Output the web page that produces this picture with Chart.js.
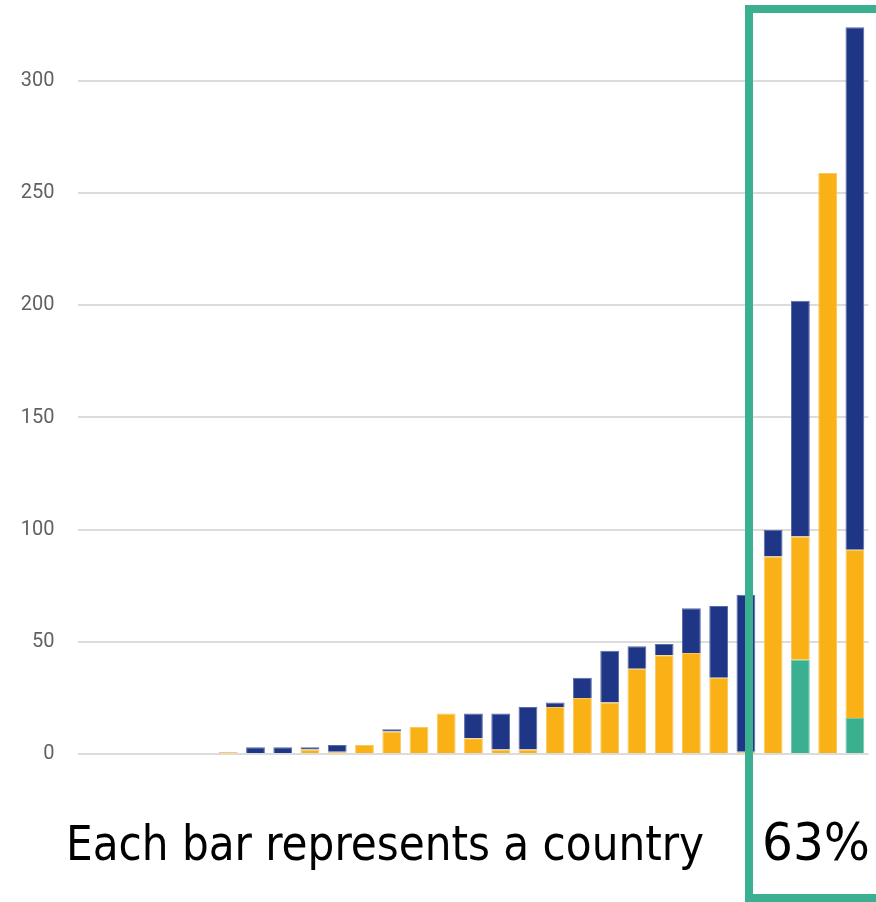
<!DOCTYPE html>
<html>
<head>
<meta charset="utf-8">
<script src="https://cdn.jsdelivr.net/npm/chart.js@4/dist/chart.umd.min.js"></script>
<style>
  html, body { margin: 0; padding: 0; background: #ffffff; overflow: hidden; }
  #wrap { position: relative; width: 876px; height: 902px; overflow: hidden; }
  #chart { position: absolute; left: 0; top: 0; }
  .caption {
    position: absolute;
    font-family: "DejaVu Sans Condensed", "DejaVu Sans", sans-serif;
    line-height: 1;
    color: #000000;
    white-space: nowrap;
    transform-origin: 0 0;
  }
  #note { left: 66px; top: 819px; font-size: 48px; }
  #share { left: 762px; top: 817px; font-size: 51px; }
  #frame {
    position: absolute;
    left: 745px; top: 5px;
    width: 220px; height: 897px;
    box-sizing: border-box;
    border: 8px solid #3ab091;
    pointer-events: none;
  }
</style>
</head>
<body>
<div id="wrap">
  <canvas id="chart" width="876" height="902"></canvas>
  <div id="frame"></div>
  <div class="caption" id="note">Each bar represents a country</div>
  <div class="caption" id="share">63%</div>
</div>
<script>
// One bar per country, sorted by total height
const countries = ['1','2','3','4','5','6','7','8','9','10','11','12','13','14','15',
                   '16','17','18','19','20','21','22','23','24','25','26','27','28','29'];

// Stacked segments, bottom to top
const tealValues  = [0,0,0,0,0, 0,0,0,0,0, 0,0,0,0,0, 0,0,0,0,0, 0,0,0,0,0, 0,42,0,16];
const amberValues = [0,0,0,0,0, 1,0,0,2,1, 4,10,12,18,7, 2,2,21,25,23, 38,44,45,34,1, 88,55,259,75];
const navyValues  = [0,0,0,0,0, 0,3,3,1,3, 0,1,0,0,11, 16,19,2,9,23, 10,5,20,32,70, 12,105,0,233];

const yTicks = [0, 50, 100, 150, 200, 250, 300];
const yMax = 330;

// Fit each caption to its intended width
function fitWidth(id, target) {
  const el = document.getElementById(id);
  const w = el.getBoundingClientRect().width;
  if (w > 0) el.style.transform = 'scaleX(' + (target / w) + ')';
}
fitWidth('note', 638);
fitWidth('share', 108);

const ctx = document.getElementById('chart').getContext('2d');
new Chart(ctx, {
  type: 'bar',
  data: {
    labels: countries,
    datasets: [
      { label: 'teal',  data: tealValues,  backgroundColor: '#3ab091', borderColor: '#74c9b1', borderWidth: 1 },
      { label: 'amber', data: amberValues, backgroundColor: '#f9b116', borderColor: '#fbc85e', borderWidth: 1 },
      { label: 'navy',  data: navyValues,  backgroundColor: '#1e3685', borderColor: '#5b6ba6', borderWidth: 1 }
    ]
  },
  options: {
    responsive: false,
    animation: false,
    layout: { padding: { left: 0, right: 7.5, top: 13.7, bottom: 148 } },
    datasets: { bar: { categoryPercentage: 1.0, barPercentage: 0.69 } },
    plugins: { legend: { display: false }, tooltip: { enabled: false } },
    scales: {
      x: { stacked: true, display: false },
      y: {
        stacked: true,
        min: 0,
        max: yMax,
        border: { display: false },
        grid: { color: '#dcdcdc', lineWidth: 2, drawTicks: false },
        ticks: {
          padding: 24,
          color: '#616161',
          font: { family: 'Roboto', size: 20 }
        },
        afterBuildTicks: (scale) => {
          scale.ticks = yTicks.map(v => ({ value: v }));
        },
        afterFit: (scale) => {
          scale.width = 78.4;
          scale.paddingTop = 0;
          scale.paddingBottom = 0;
        }
      }
    }
  }
});
</script>
</body>
</html>
